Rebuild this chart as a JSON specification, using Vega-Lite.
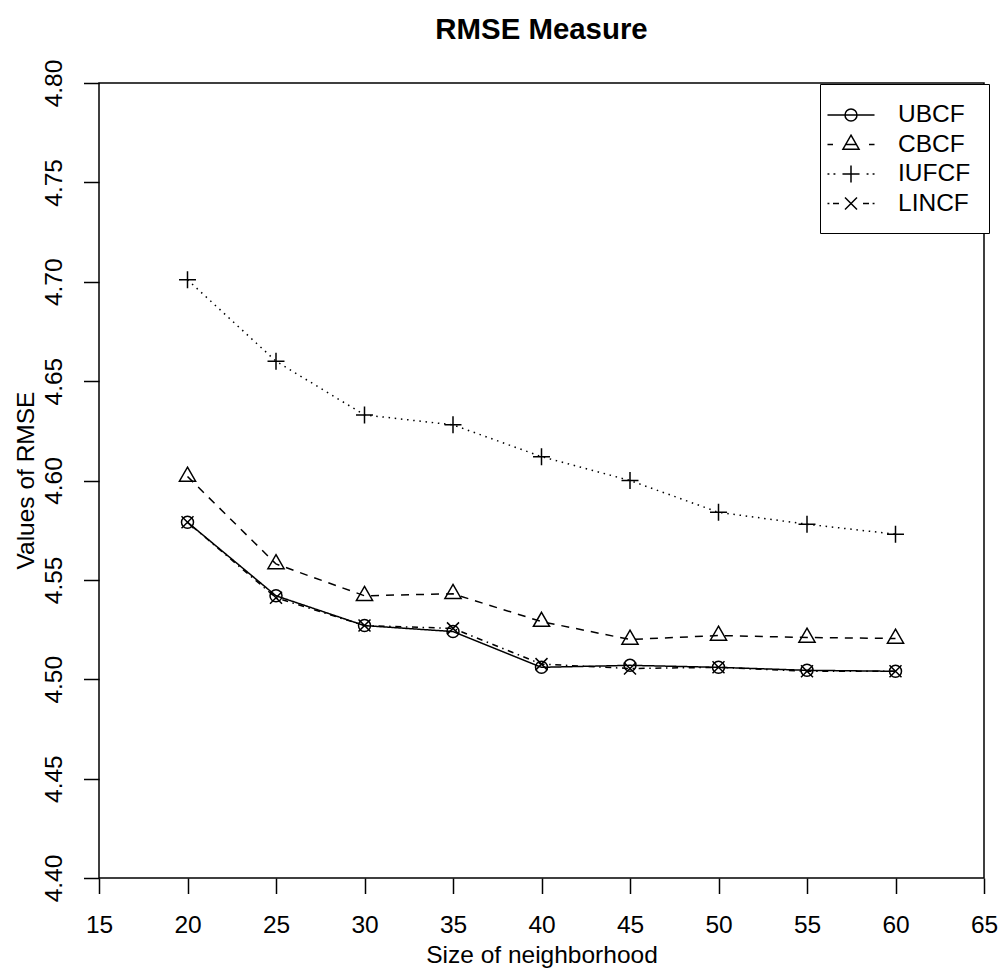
{
  "$schema": "https://vega.github.io/schema/vega-lite/v6.json",
  "width": 885,
  "height": 795,
  "autosize": "none",
  "padding": {"left": 99, "top": 83, "right": 20, "bottom": 94},
  "background": "white",
  "title": {
    "text": "RMSE Measure",
    "font": "Liberation Sans",
    "fontSize": 29.4,
    "fontWeight": "bold",
    "color": "black",
    "anchor": "middle",
    "frame": "group",
    "baseline": "alphabetic",
    "offset": 28,
    "dy": 37
  },
  "config": {
    "view": {"stroke": "black", "strokeWidth": 1.5},
    "font": "Liberation Sans",
    "axis": {
      "domain": false,
      "grid": false,
      "tickColor": "black",
      "tickWidth": 1.5,
      "tickSize": 15.5,
      "labelFont": "Liberation Sans",
      "labelFontSize": 24.5,
      "labelColor": "black",
      "labelFlush": false,
      "labelOverlap": false,
      "labelBound": false,
      "titleFont": "Liberation Sans",
      "titleFontSize": 24.5,
      "titleFontWeight": "normal",
      "titleColor": "black"
    }
  },
  "data": {
    "values": [
      {"size": 20, "series": "UBCF", "rmse": 4.579},
      {"size": 25, "series": "UBCF", "rmse": 4.542},
      {"size": 30, "series": "UBCF", "rmse": 4.527},
      {"size": 35, "series": "UBCF", "rmse": 4.524},
      {"size": 40, "series": "UBCF", "rmse": 4.506},
      {"size": 45, "series": "UBCF", "rmse": 4.507},
      {"size": 50, "series": "UBCF", "rmse": 4.506},
      {"size": 55, "series": "UBCF", "rmse": 4.5045},
      {"size": 60, "series": "UBCF", "rmse": 4.504},
      {"size": 20, "series": "CBCF", "rmse": 4.602},
      {"size": 25, "series": "CBCF", "rmse": 4.558},
      {"size": 30, "series": "CBCF", "rmse": 4.542},
      {"size": 35, "series": "CBCF", "rmse": 4.543},
      {"size": 40, "series": "CBCF", "rmse": 4.529},
      {"size": 45, "series": "CBCF", "rmse": 4.520},
      {"size": 50, "series": "CBCF", "rmse": 4.522},
      {"size": 55, "series": "CBCF", "rmse": 4.521},
      {"size": 60, "series": "CBCF", "rmse": 4.5205},
      {"size": 20, "series": "IUFCF", "rmse": 4.701},
      {"size": 25, "series": "IUFCF", "rmse": 4.660},
      {"size": 30, "series": "IUFCF", "rmse": 4.633},
      {"size": 35, "series": "IUFCF", "rmse": 4.628},
      {"size": 40, "series": "IUFCF", "rmse": 4.612},
      {"size": 45, "series": "IUFCF", "rmse": 4.600},
      {"size": 50, "series": "IUFCF", "rmse": 4.584},
      {"size": 55, "series": "IUFCF", "rmse": 4.578},
      {"size": 60, "series": "IUFCF", "rmse": 4.573},
      {"size": 20, "series": "LINCF", "rmse": 4.579},
      {"size": 25, "series": "LINCF", "rmse": 4.541},
      {"size": 30, "series": "LINCF", "rmse": 4.527},
      {"size": 35, "series": "LINCF", "rmse": 4.5256},
      {"size": 40, "series": "LINCF", "rmse": 4.5076},
      {"size": 45, "series": "LINCF", "rmse": 4.5054},
      {"size": 50, "series": "LINCF", "rmse": 4.506},
      {"size": 55, "series": "LINCF", "rmse": 4.504},
      {"size": 60, "series": "LINCF", "rmse": 4.504}
    ]
  },
  "encoding": {
    "x": {
      "field": "size",
      "type": "quantitative",
      "scale": {"domain": [15, 65], "nice": false, "zero": false},
      "axis": {
        "title": "Size of neighborhood",
        "values": [15, 20, 25, 30, 35, 40, 45, 50, 55, 60, 65],
        "labelPadding": 20,
        "labelBaseline": "top",
        "labelAlign": "center",
        "titleX": 442.5,
        "titleY": 84.5,
        "titleBaseline": "alphabetic",
        "titleAlign": "center"
      }
    },
    "y": {
      "field": "rmse",
      "type": "quantitative",
      "scale": {"domain": [4.4, 4.8], "nice": false, "zero": false},
      "axis": {
        "title": "Values of RMSE",
        "values": [4.4, 4.45, 4.5, 4.55, 4.6, 4.65, 4.7, 4.75, 4.8],
        "format": ".2f",
        "labelAngle": 270,
        "labelAlign": "center",
        "labelBaseline": "alphabetic",
        "labelPadding": 22,
        "titleAngle": 270,
        "titleX": -66,
        "titleY": 397,
        "titleAlign": "center",
        "titleBaseline": "alphabetic"
      }
    }
  },
  "layer": [
    {
      "mark": {"type": "line", "color": "black", "strokeWidth": 1.5},
      "encoding": {
        "strokeDash": {
          "field": "series",
          "type": "nominal",
          "scale": {
            "domain": ["UBCF", "CBCF", "IUFCF", "LINCF"],
            "range": [[1, 0], [8, 7], [1.5, 4.7], [1.5, 4.6, 6, 4.6]]
          },
          "legend": null
        }
      }
    },
    {
      "mark": {"type": "point", "filled": false, "color": "black", "strokeWidth": 1.5, "size": 144, "opacity": 1},
      "encoding": {
        "shape": {
          "field": "series",
          "type": "nominal",
          "scale": {
            "domain": ["UBCF", "CBCF", "IUFCF", "LINCF"],
            "range": [
              "M1,0A1,1 0 1,1 -1,0A1,1 0 1,1 1,0Z",
              "M0,-1.555L1.347,0.778L-1.347,0.778Z",
              "M-1.414,0L1.414,0M0,-1.414L0,1.414",
              "M-1,-1L1,1M-1,1L1,-1"
            ]
          },
          "legend": null
        }
      }
    },
    {
      "transform": [{"filter": "datum.series == 'none'"}],
      "mark": {"type": "point", "filled": false, "color": "black", "strokeWidth": 1.5, "opacity": 1},
      "encoding": {
        "shape": {
          "field": "series",
          "type": "nominal",
          "scale": {
            "domain": ["UBCF", "CBCF", "IUFCF", "LINCF"],
            "range": [
              "M-1.96,0L1.96,0M0.5,0A0.5,0.5 0 1,1 -0.5,0A0.5,0.5 0 1,1 0.5,0",
              "M-1.96,0L-1.5,0M-0.5,0L0.5,0M1.5,0L1.96,0M0,-0.78L0.67,0.39L-0.67,0.39Z",
              "M-1.96,0L-1.8,0M-1.46,0L-1.3,0M-0.71,0L0.71,0M0,-0.71L0,0.71M1.3,0L1.46,0M1.8,0L1.96,0",
              "M-1.96,0L-1.8,0M-1.5,0L-1.0,0M-0.5,-0.5L0.5,0.5M-0.5,0.5L0.5,-0.5M1.0,0L1.5,0M1.8,0L1.96,0"
            ]
          },
          "legend": {
            "orient": "none",
            "legendX": 721,
            "legendY": 1,
            "title": null,
            "symbolSize": 576,
            "symbolStrokeWidth": 1.5,
            "symbolStrokeColor": "black",
            "symbolFillColor": "transparent",
            "labelFont": "Liberation Sans",
            "labelFontSize": 24.5,
            "labelColor": "black",
            "labelOffset": 34,
            "padding": 18,
            "rowPadding": 4.5,
            "strokeColor": "black",
            "fillColor": "white",
            "cornerRadius": 0,
            "encode": {"legend": {"update": {"strokeWidth": {"value": 1.5}}}}
          }
        }
      }
    }
  ],
  "resolve": {"scale": {"shape": "independent"}}
}
